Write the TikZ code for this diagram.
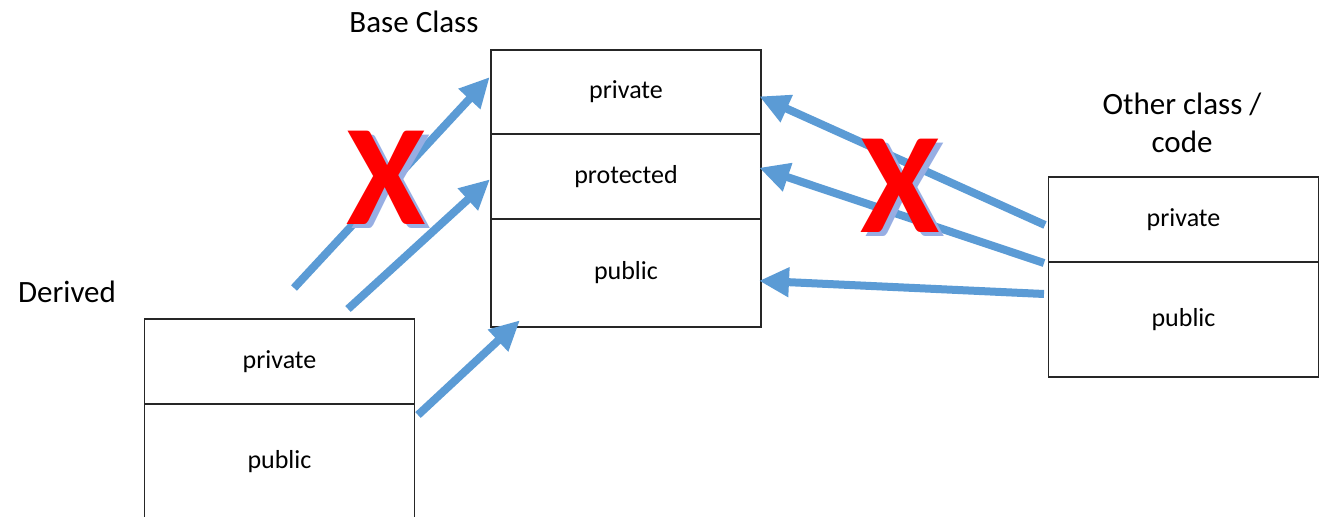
\documentclass[tikz,border=0pt]{standalone}
\usepackage{fontspec}
\setmainfont{Carlito}
\usetikzlibrary{arrows.meta}
\definecolor{arrowblue}{HTML}{5B9BD5}
\definecolor{xred}{HTML}{FF0000}
\definecolor{xshadow}{HTML}{97AEE3}
\newcommand{\shadowX}{\rlap{\kern2.5pt\raisebox{-2pt}{\textcolor{xshadow}{X}}}X}
\tikzset{
  cell/.style={draw=black!85, line width=0.6pt, minimum width=135pt, inner sep=0pt, font=\fontsize{13}{15}\selectfont},
  lbl/.style={font=\fontsize{15.5}{19}\selectfont, inner sep=0pt, align=center},
  bigarrow/.style={draw=arrowblue, line width=4pt, -{Triangle[length=15pt,width=14pt]}, shorten >=-2pt},
  xmark/.style={font=\fontsize{72}{72}\bfseries\selectfont, text=xred, inner sep=0pt},
}
\begin{document}
\begin{tikzpicture}[x=0.5pt,y=-0.5pt]
\useasboundingbox[fill=white] (0,0) rectangle (1319,517);
% Base class
\node[cell, minimum height=42pt] (bpriv) at (626,92) {private};
\node[cell, minimum height=42.5pt] (bprot) at (626,176.5) {protected};
\node[cell, minimum height=54pt] (bpub) at (626,273) {public};
\node[lbl] (blbl) at (414,22) {Base Class};
% Derived
\node[cell, minimum height=42.5pt] (dpriv) at (279.5,361.5) {private};
\node[cell, minimum height=60pt] (dpub) at (279.5,464) {};
\node[font=\fontsize{13}{15}\selectfont] (dpubt) at (279.5,462) {public};
\node[lbl] (dlbl) at (67,292) {Derived};
% Other
\node[cell, minimum height=42.5pt] (opriv) at (1183.5,219.5) {private};
\node[cell, minimum height=57.5pt] (opub) at (1183.5,319.5) {public};
\node[lbl] (olbl) at (1182,123) {Other class /\\[0pt] code};
% arrows from derived
\coordinate (a1s) at (294,288); \coordinate (a1e) at (487,80);
\coordinate (a2s) at (348,309); \coordinate (a2e) at (487,182);
\coordinate (a3s) at (418,415); \coordinate (a3e) at (517,323);
\draw[bigarrow] (a1s) -- (a1e);
\draw[bigarrow] (a2s) -- (a2e);
\draw[bigarrow] (a3s) -- (a3e);
% arrows from other
\coordinate (b1s) at (1045,225); \coordinate (b1e) at (763,98);
\coordinate (b2s) at (1044,263); \coordinate (b2e) at (763,169);
\coordinate (b3s) at (1044,294); \coordinate (b3e) at (763,281);
\draw[bigarrow] (b1s) -- (b1e);
\draw[bigarrow] (b2s) -- (b2e);
\draw[bigarrow] (b3s) -- (b3e);
% X marks
\node[xmark] (x1) at (386,180) {\shadowX};
\node[xmark] (x2) at (900,188) {\shadowX};
\end{tikzpicture}
\end{document}
